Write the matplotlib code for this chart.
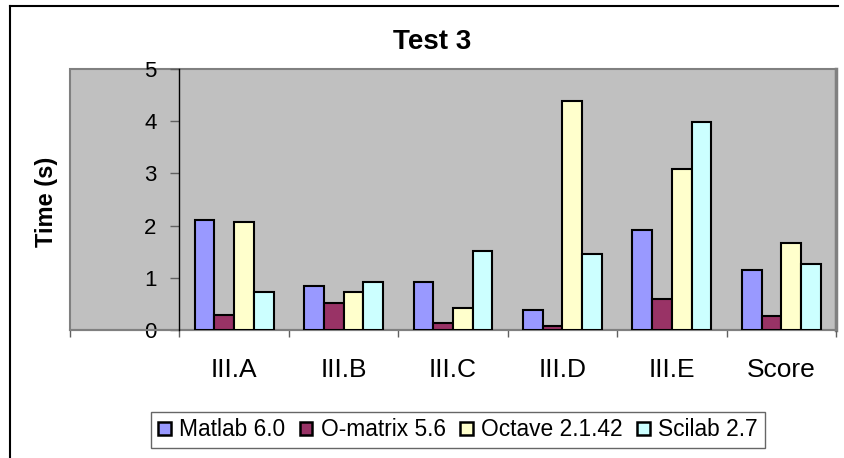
import numpy as np
import matplotlib
matplotlib.use('Agg')
import matplotlib.pyplot as plt
from matplotlib.patches import Rectangle
from matplotlib.lines import Line2D

plt.rcParams['font.family'] = ['Liberation Sans', 'DejaVu Sans']

# chart data
categories = ['III.A', 'III.B', 'III.C', 'III.D', 'III.E', 'Score']
series = ['Matlab 6.0', 'O-matrix 5.6', 'Octave 2.1.42', 'Scilab 2.7']
matlab = [2.11, 0.84, 0.91, 0.38, 1.92, 1.15]
omatrix = [0.29, 0.51, 0.14, 0.08, 0.60, 0.27]
octave = [2.06, 0.73, 0.43, 4.39, 3.08, 1.67]
scilab = [0.72, 0.91, 1.52, 1.46, 3.98, 1.26]
colors = ['#9999FF', '#993366', '#FFFFCC', '#CCFFFF']
yticks = [0, 1, 2, 3, 4, 5]

W, H = 844, 458
fig = plt.figure(figsize=(W / 100, H / 100), dpi=100)
ax = fig.add_axes([70 / W, 1 - 330 / H, (836 - 70) / W, (330 - 69) / H])
ax.set_facecolor('#C0C0C0')

# first slot is left blank, categories sit in slots 1..6
x = np.arange(1, len(categories) + 1)
w = 0.18
for i, (name, vals) in enumerate(zip(series, [matlab, omatrix, octave, scilab])):
    ax.bar(x + (i - 1.5) * w, vals, w, color=colors[i], edgecolor='black',
           linewidth=1.5, label=name, zorder=3)

ax.set_xlim(-0.5, len(categories) + 0.5)
ax.set_ylim(0, 5)

# plot area border
for s in ['top', 'right']:
    ax.spines[s].set_visible(False)
ax.add_patch(Rectangle((0, 0), 1, 1, transform=ax.transAxes, fill=False,
                       edgecolor='#808080', linewidth=1.5, zorder=1, clip_on=False))
ax.plot([1, 1], [0, 1], transform=ax.transAxes, color='#808080', lw=2.5,
        clip_on=False, zorder=1)

ax.spines['left'].set_position(('data', 0.5))
ax.spines['left'].set_color('black')
ax.spines['left'].set_linewidth(1)
ax.spines['left'].set_zorder(4)
ax.spines['bottom'].set_color('#808080')
ax.spines['bottom'].set_linewidth(1.5)

ax.set_yticks(yticks)
ax.set_yticklabels([str(v) for v in yticks], fontsize=16)
ax.tick_params(axis='y', direction='out', length=6.5, width=1, color='#606060', pad=10)

ax.set_xticks(x)
ax.set_xticklabels(categories, fontsize=19)
ax.set_xticks(np.arange(-0.5, len(categories) + 1), minor=True)
ax.tick_params(axis='x', which='major', length=0, pad=20)
ax.tick_params(axis='x', which='minor', direction='out', length=5, width=1, color='#606060')

fig.text(432 / W, 1 - 42 / H, 'Test 3', ha='center', va='center',
         fontsize=20, fontweight='bold')
fig.text(47 / W, 1 - 202 / H, 'Time (s)', ha='center', va='center',
         rotation=90, fontsize=17, fontweight='bold')

leg = fig.legend(loc='center', bbox_to_anchor=(458 / W, 1 - 430 / H), ncol=4,
                 fontsize=16.4, frameon=True, fancybox=False, shadow=False,
                 handlelength=0.55, handleheight=0.55, handletextpad=0.37,
                 columnspacing=0.64, borderpad=0.3, borderaxespad=0)
leg.get_frame().set_edgecolor('#404040')
leg.get_frame().set_linewidth(1)
for h in leg.legend_handles:
    h.set_linewidth(1.8)

# outer chart border (top and left visible in the crop)
fig.add_artist(Line2D([10 / W, 838 / W], [1 - 6 / H, 1 - 6 / H], color='black', lw=1.5))
fig.add_artist(Line2D([10 / W, 10 / W], [1 - 6 / H, 0], color='black', lw=1.5))

fig.savefig('out.png', dpi=100)
